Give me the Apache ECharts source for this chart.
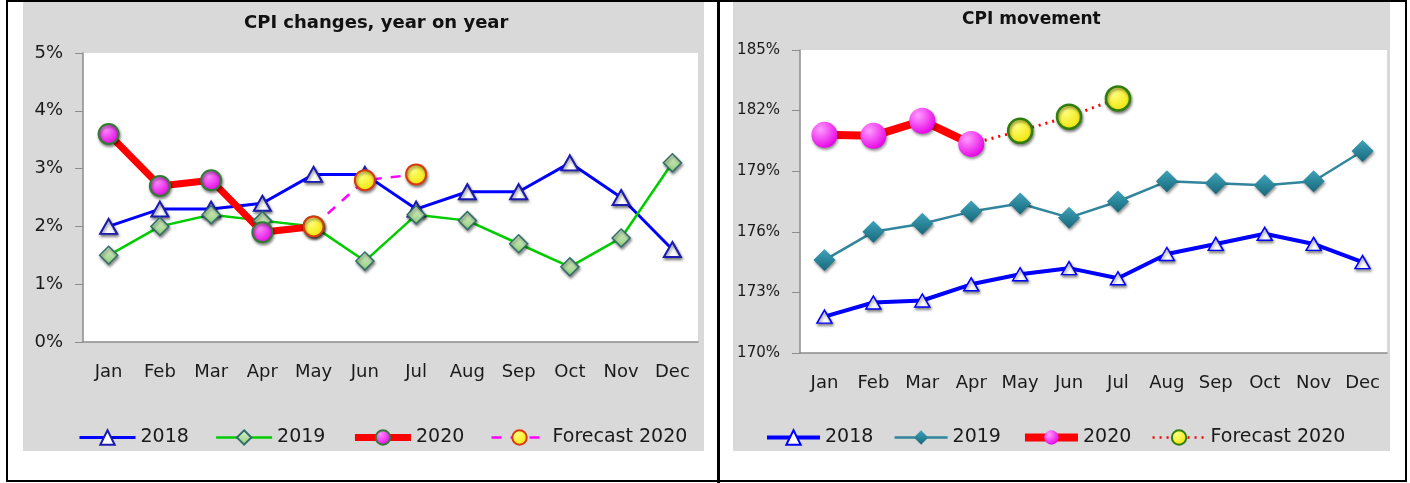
<!DOCTYPE html>
<html>
<head>
<meta charset="utf-8">
<script src="https://cdn.jsdelivr.net/npm/echarts@6/dist/echarts.min.js"></script>
<style>
  body { margin: 0; background: #fff; width: 1410px; height: 483px; overflow: hidden; position: relative; }
  .frame { position: absolute; left: 6px; top: 0; width: 1397px; height: 478px; border: 2px solid #000; }
  .divider { position: absolute; left: 717px; top: 0; width: 3px; height: 483px; background: #000; }
  .panel { position: absolute; top: 2px; height: 449px; background: #d9d9d9; }
  #yoyChart { left: 23px; width: 681px; }
  #idxChart { left: 733px; width: 657px; }
</style>
</head>
<body>
<div class="frame"></div>
<div class="divider"></div>
<div class="panel" id="yoyChart"></div>
<div class="panel" id="idxChart"></div>
<script>
// data
var months = ['Jan', 'Feb', 'Mar', 'Apr', 'May', 'Jun', 'Jul', 'Aug', 'Sep', 'Oct', 'Nov', 'Dec'];
var seriesNames = ['2018', '2019', '2020', 'Forecast 2020'];

// CPI changes, year on year (%)
var yoy2018 = [2.0, 2.3, 2.3, 2.4, 2.9, 2.9, 2.3, 2.6, 2.6, 3.1, 2.5, 1.6];
var yoy2019 = [1.5, 2.0, 2.2, 2.1, 2.0, 1.4, 2.2, 2.1, 1.7, 1.3, 1.8, 3.1];
var yoy2020 = [3.6, 2.7, 2.8, 1.9, 2.0];
var yoyForecast = [null, null, null, null, 2.0, 2.8, 2.9];

// CPI movement (%)
var idx2018 = [171.8, 172.5, 172.6, 173.4, 173.9, 174.2, 173.7, 174.9, 175.4, 175.9, 175.4, 174.5];
var idx2019 = [174.6, 176.0, 176.4, 177.0, 177.4, 176.7, 177.5, 178.5, 178.4, 178.3, 178.5, 180.0];
var idx2020 = [180.8, 180.75, 181.5, 180.35];
var idxForecast = [null, null, null, 180.35, 181.0, 181.7, 182.6];

var FONT = 'DejaVu Sans';
var shadow = { shadowBlur: 3, shadowColor: 'rgba(0,0,0,0.45)', shadowOffsetX: 1, shadowOffsetY: 2 };

function radial(c0, c1) {
  return new echarts.graphic.RadialGradient(0.35, 0.3, 0.75, [
    { offset: 0, color: c0 },
    { offset: 1, color: c1 }
  ]);
}

function baseAxes(yMin, yMax, yInterval, labelSize) {
  return {
    xAxis: {
      type: 'category',
      data: months,
      boundaryGap: true,
      axisLine: { lineStyle: { color: '#8c8c8c', width: 1.5 } },
      axisTick: { alignWithLabel: true, length: 6, lineStyle: { color: '#8c8c8c' } },
      axisLabel: { color: '#1a1a1a', fontFamily: FONT, fontSize: 18, margin: 21 },
      splitLine: { show: false }
    },
    yAxis: {
      type: 'value',
      min: yMin,
      max: yMax,
      interval: yInterval,
      axisLine: { show: true, lineStyle: { color: '#8c8c8c', width: 1.5 } },
      axisTick: { show: true, length: 8, lineStyle: { color: '#8c8c8c' } },
      axisLabel: { color: '#1a1a1a', fontFamily: FONT, fontSize: labelSize, margin: 20, formatter: '{value}%' },
      splitLine: { show: false }
    }
  };
}

// legend entries, line widths as in the picture
function legendData(widths) {
  return seriesNames.map(function (name, i) {
    return { name: name, lineStyle: { width: widths[i] } };
  });
}

// left chart
var yoyChart = echarts.init(document.getElementById('yoyChart'));
var yoyAxes = baseAxes(0, 5, 1, 18);
yoyChart.setOption({
  animation: false,
  title: {
    text: 'CPI changes, year on year',
    left: 216,
    top: 7,
    textStyle: { fontFamily: FONT, fontSize: 18, fontWeight: 'bold', color: '#111' }
  },
  legend: {
    data: legendData([3, 2.5, 7, 2.5]),
    left: 50,
    top: 421,
    itemWidth: 56,
    itemHeight: 18,
    itemGap: 26,
    textStyle: { fontFamily: FONT, fontSize: 19, color: '#1a1a1a' }
  },
  grid: { left: 60, top: 51, width: 615, height: 289, show: true, backgroundColor: '#fff', borderWidth: 0 },
  xAxis: yoyAxes.xAxis,
  yAxis: yoyAxes.yAxis,
  series: [
    {
      name: '2018', type: 'line', data: yoy2018,
      symbol: 'triangle', symbolSize: [17, 15],
      lineStyle: { color: '#0000ff', width: 3 },
      itemStyle: Object.assign({ color: '#fff', borderColor: '#1b1bb0', borderWidth: 2 }, shadow)
    },
    {
      name: '2019', type: 'line', data: yoy2019,
      symbol: 'diamond', symbolSize: 18,
      lineStyle: { color: '#00cc00', width: 2.5 },
      itemStyle: Object.assign({
        color: new echarts.graphic.LinearGradient(0, 0, 0, 1, [
          { offset: 0, color: '#e2f3d2' }, { offset: 1, color: '#8fcc78' }
        ]),
        borderColor: '#2f6e6a', borderWidth: 1.5
      }, shadow)
    },
    {
      name: '2020', type: 'line', data: yoy2020,
      symbol: 'circle', symbolSize: 20,
      lineStyle: { color: '#ff0000', width: 7 },
      itemStyle: Object.assign({ color: radial('#ff8cff', '#e000e0'), borderColor: '#2e7d32', borderWidth: 2 }, shadow)
    },
    {
      name: 'Forecast 2020', type: 'line', data: yoyForecast,
      symbol: 'circle', symbolSize: 20,
      lineStyle: { color: '#ff00ff', width: 2.5, type: [10, 9] },
      itemStyle: Object.assign({ color: radial('#ffff80', '#f2e600'), borderColor: '#d83a10', borderWidth: 2 }, shadow)
    }
  ]
});

// right chart
var idxChart = echarts.init(document.getElementById('idxChart'));
var idxAxes = baseAxes(170, 185, 3, 15);
idxChart.setOption({
  animation: false,
  title: {
    text: 'CPI movement',
    left: 224,
    top: 4,
    textStyle: { fontFamily: FONT, fontSize: 17, fontWeight: 'bold', color: '#111' }
  },
  legend: {
    data: legendData([4, 2.5, 8, 2.5]),
    left: 27,
    top: 421,
    itemWidth: 53,
    itemHeight: 18,
    itemGap: 20,
    textStyle: { fontFamily: FONT, fontSize: 19, color: '#1a1a1a' }
  },
  grid: { left: 67, top: 48, width: 587, height: 303, show: true, backgroundColor: '#fff', borderWidth: 0 },
  xAxis: idxAxes.xAxis,
  yAxis: idxAxes.yAxis,
  series: [
    {
      name: '2018', type: 'line', data: idx2018,
      symbol: 'triangle', symbolSize: [15, 13],
      lineStyle: { color: '#0000ff', width: 4 },
      itemStyle: Object.assign({ color: '#fff', borderColor: '#0000ff', borderWidth: 1.5 }, shadow)
    },
    {
      name: '2019', type: 'line', data: idx2019,
      symbol: 'diamond', symbolSize: 22,
      lineStyle: { color: '#31859c', width: 2.5 },
      itemStyle: Object.assign({
        color: new echarts.graphic.LinearGradient(0, 0, 0, 1, [
          { offset: 0, color: '#3fa3ba' }, { offset: 1, color: '#17687a' }
        ])
      }, shadow)
    },
    {
      name: '2020', type: 'line', data: idx2020,
      symbol: 'circle', symbolSize: 26,
      lineStyle: { color: '#ff0000', width: 8 },
      itemStyle: Object.assign({ color: radial('#ff9cff', '#e600e6') }, shadow)
    },
    {
      name: 'Forecast 2020', type: 'line',
      data: idxForecast.map(function (v, i) {
        return i === 3 ? { value: v, symbol: 'none' } : v;
      }),
      symbol: 'circle', symbolSize: 24,
      lineStyle: { color: '#ff0000', width: 3, type: [2, 5] },
      itemStyle: Object.assign({ color: radial('#ffff80', '#f0e400'), borderColor: '#2f7d0a', borderWidth: 2.5 }, shadow)
    }
  ]
});
</script>
</body>
</html>
